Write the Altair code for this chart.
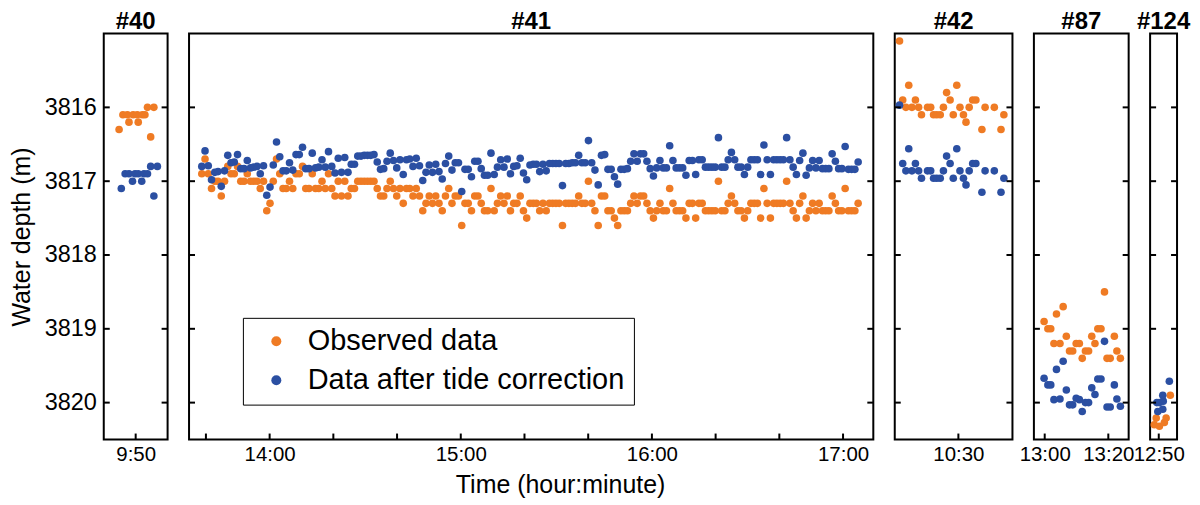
import altair as alt
import pandas as pd

FONT = "Liberation Sans"
ORANGE = "#EF7B24"
BLUE = "#2B4FA2"
SERIES = ["Observed data", "Data after tide correction"]

Y_DOMAIN = [3815.0, 3820.5]
Y_TICKS = [3816, 3817, 3818, 3819, 3820]
PLOT_H = 407

# ---------------- #40 ----------------
p40_obs_t = [584.8, 586.0, 587.4, 587.9, 589.2, 590.5, 590.8, 592.1, 592.9, 593.7, 594.7, 595.7]
p40_obs_d = [3816.3, 3816.1, 3816.1, 3816.2, 3816.1, 3816.1, 3816.2, 3816.1, 3816.1, 3816.0, 3816.4, 3816.0]
p40_cor_t = [585.5, 586.7, 587.9, 589.0, 589.8, 590.8, 591.9, 592.6, 593.7, 594.7, 595.7, 596.8]
p40_cor_d = [3817.1, 3816.9, 3816.9, 3817.0, 3816.9, 3816.9, 3817.0, 3816.9, 3816.9, 3816.8, 3817.2, 3816.8]

# ---------------- #41 (one sample about every minute) ----------------
p41_start = 818.7
p41_step = 1.02
p41_obs_d = [
    3816.9, 3816.7, 3816.9, 3817.1, 3817.0, 3817.0, 3817.2, 3817.0, 3816.8, 3816.9,
    3816.9, 3816.8, 3817.0, 3817.0, 3816.9, 3817.0, 3817.0, 3817.0, 3817.1, 3817.0,
    3817.4, 3817.3, 3817.0, 3816.7, 3816.9, 3817.1, 3817.1, 3817.0, 3817.1, 3816.9,
    3816.9, 3816.8, 3817.1, 3817.1, 3816.9, 3817.1, 3817.1, 3817.0, 3817.1, 3816.9,
    3817.1, 3817.2, 3817.0, 3817.2, 3817.0, 3817.2, 3817.1, 3817.1, 3817.0, 3817.0,
    3817.0, 3817.0, 3817.0, 3817.0, 3817.1, 3817.2, 3817.2, 3817.1, 3817.0, 3817.1,
    3817.2, 3817.1, 3817.3, 3817.1, 3817.1, 3817.2, 3817.1, 3817.2, 3817.4, 3817.3,
    3817.2, 3817.3, 3817.2, 3817.3, 3817.4, 3817.2, 3817.1, 3817.3, 3817.2, 3817.2,
    3817.6, 3817.3, 3817.3, 3817.4, 3817.2, 3817.2, 3817.3, 3817.4, 3817.4, 3817.1,
    3817.4, 3817.3, 3817.2, 3817.3, 3817.2, 3817.4, 3817.3, 3817.3, 3817.2, 3817.4,
    3817.5, 3817.3,
    3817.3, 3817.3, 3817.4, 3817.3, 3817.4, 3817.3, 3817.3, 3817.3, 3817.3, 3817.6,
    3817.3, 3817.3, 3817.3, 3817.3, 3817.2, 3817.3, 3817.3, 3817.0, 3817.3, 3817.4,
    3817.6, 3817.2, 3817.2, 3817.4, 3817.4, 3817.5, 3817.6, 3817.4, 3817.4, 3817.4,
    3817.3, 3817.2, 3817.3, 3817.2, 3817.2, 3817.3, 3817.4, 3817.5, 3817.4, 3817.3,
    3817.4, 3817.4, 3817.1, 3817.3, 3817.4, 3817.4, 3817.4, 3817.5, 3817.3, 3817.3,
    3817.5, 3817.3, 3817.3, 3817.4, 3817.4, 3817.4, 3817.4, 3817.0, 3817.4, 3817.4,
    3817.3, 3817.2, 3817.3, 3817.4, 3817.4, 3817.5, 3817.4, 3817.3, 3817.3, 3817.3,
    3817.5, 3817.1, 3817.3, 3817.5, 3817.3, 3817.3, 3817.3, 3817.3, 3817.0, 3817.3,
    3817.4, 3817.5, 3817.3, 3817.2, 3817.5, 3817.4, 3817.3, 3817.4, 3817.3, 3817.4,
    3817.4, 3817.4, 3817.2, 3817.3, 3817.4, 3817.4, 3817.1, 3817.4, 3817.4, 3817.4,
    3817.3,
]
p41_cor_d = [
    3816.80, 3816.59, 3816.79, 3816.98, 3816.88, 3816.87, 3817.07, 3816.86, 3816.65, 3816.75,
    3816.74, 3816.64, 3816.83, 3816.83, 3816.72, 3816.82, 3816.81, 3816.80, 3816.90, 3816.79,
    3817.19, 3817.08, 3816.78, 3816.47, 3816.67, 3816.86, 3816.86, 3816.75, 3816.85, 3816.64,
    3816.64, 3816.54, 3816.83, 3816.83, 3816.62, 3816.82, 3816.81, 3816.71, 3816.81, 3816.60,
    3816.80, 3816.89, 3816.69, 3816.88, 3816.68, 3816.88, 3816.77, 3816.77, 3816.66, 3816.66,
    3816.65, 3816.65, 3816.65, 3816.64, 3816.74, 3816.84, 3816.83, 3816.73, 3816.62, 3816.72,
    3816.82, 3816.71, 3816.91, 3816.71, 3816.70, 3816.80, 3816.69, 3816.79, 3816.99, 3816.88,
    3816.78, 3816.88, 3816.77, 3816.87, 3816.97, 3816.76, 3816.66, 3816.85, 3816.75, 3816.75,
    3817.14, 3816.84, 3816.84, 3816.94, 3816.73, 3816.73, 3816.83, 3816.92, 3816.92, 3816.62,
    3816.91, 3816.81, 3816.71, 3816.81, 3816.70, 3816.90, 3816.80, 3816.79, 3816.69, 3816.89,
    3816.98, 3816.78,
    3816.77, 3816.77, 3816.87, 3816.77, 3816.86, 3816.76, 3816.76, 3816.76, 3816.76, 3817.06,
    3816.76, 3816.76, 3816.75, 3816.75, 3816.65, 3816.75, 3816.75, 3816.45, 3816.75, 3816.85,
    3817.05, 3816.65, 3816.64, 3816.84, 3816.84, 3816.94, 3817.04, 3816.84, 3816.84, 3816.83,
    3816.73, 3816.63, 3816.73, 3816.63, 3816.63, 3816.73, 3816.83, 3816.93, 3816.82, 3816.72,
    3816.82, 3816.82, 3816.52, 3816.72, 3816.82, 3816.82, 3816.82, 3816.92, 3816.72, 3816.72,
    3816.91, 3816.71, 3816.71, 3816.81, 3816.81, 3816.81, 3816.81, 3816.41, 3816.81, 3816.81,
    3816.71, 3816.61, 3816.71, 3816.81, 3816.81, 3816.91, 3816.81, 3816.71, 3816.71, 3816.71,
    3816.91, 3816.51, 3816.71, 3816.91, 3816.71, 3816.71, 3816.71, 3816.71, 3816.41, 3816.71,
    3816.81, 3816.91, 3816.72, 3816.62, 3816.92, 3816.82, 3816.72, 3816.82, 3816.72, 3816.83,
    3816.83, 3816.83, 3816.63, 3816.73, 3816.83, 3816.83, 3816.53, 3816.84, 3816.84, 3816.84,
    3816.74,
]

# ---------------- #42 ----------------
p42_t = [611.5, 612.5, 613.5, 614.4, 615.4, 616.5, 617.5, 618.4, 620.3, 621.3,
         622.2, 623.2, 624.3, 625.3, 626.3, 627.4, 628.4, 629.5, 630.5, 631.6,
         632.4, 633.4, 634.5, 635.5, 637.4, 638.4, 641.3, 643.4, 644.3]
p42_obs_d = [3815.1, 3815.9, 3816.0, 3815.7, 3816.0, 3815.9, 3816.0, 3816.1, 3816.0, 3816.0,
             3816.1, 3816.1, 3816.1, 3816.0, 3815.8, 3815.9, 3816.1, 3815.7, 3816.0, 3816.1,
             3816.2, 3816.0, 3815.9, 3815.9, 3816.3, 3816.0, 3816.0, 3816.3, 3816.1]
p42_cor_d = [3815.97, 3816.76, 3816.86, 3816.56, 3816.86, 3816.76, 3816.86, 3816.96, 3816.86, 3816.86,
             3816.96, 3816.96, 3816.96, 3816.86, 3816.66, 3816.76, 3816.96, 3816.56, 3816.86, 3816.96,
             3817.05, 3816.86, 3816.76, 3816.76, 3817.15, 3816.86, 3816.86, 3817.15, 3816.96]

# ---------------- #87 ----------------
p87_t = [779.8, 781.0, 781.9, 782.9, 783.7, 784.8, 785.8, 786.8, 787.8, 788.8,
         789.9, 790.9, 791.8, 792.8, 793.8, 794.8, 795.8, 796.7, 797.7, 798.8,
         799.6, 800.6, 801.9, 802.7, 803.8]
p87_obs_d = [3818.9, 3819.0, 3819.0, 3819.2, 3818.8, 3819.2, 3818.7, 3819.1, 3819.3, 3819.3,
             3819.2, 3819.2, 3819.4, 3819.3, 3819.3, 3819.1, 3819.2, 3819.0, 3819.0, 3818.5,
             3819.4, 3819.4, 3819.1, 3819.3, 3819.4]
p87_cor_d = [3819.67, 3819.76, 3819.76, 3819.96, 3819.55, 3819.95, 3819.44, 3819.83, 3820.03, 3820.03,
             3819.94, 3819.96, 3820.12, 3820.00, 3820.00, 3819.80, 3819.89, 3819.68, 3819.68, 3819.17,
             3820.06, 3820.06, 3819.76, 3819.95, 3820.05]

# ---------------- #124 ----------------
p124_obs_t = [768.6, 769.2, 770.2, 771.75, 772.3, 773.6]
p124_obs_d = [3820.30, 3820.21, 3820.32, 3820.27, 3820.21, 3819.90]
p124_cor_t = [769.4, 769.7, 770.2, 771.25, 771.4, 771.25, 773.3]
p124_cor_d = [3820.00, 3820.12, 3820.00, 3820.09, 3819.98, 3819.90, 3819.71]

LABEL_EXPR = ("floor(datum.value / 60) + ':' + (datum.value % 60 < 10 ? '0' : '') "
              "+ (datum.value % 60)")


def make_df(obs_t, obs_d, cor_t, cor_d):
    rows = [{"t": t, "d": d, "series": SERIES[0]} for t, d in zip(obs_t, obs_d)]
    rows += [{"t": t, "d": d, "series": SERIES[1]} for t, d in zip(cor_t, cor_d)]
    return pd.DataFrame(rows)


def panel(title, df, xdom, width, xlabel_vals, xtick_vals,
          first=False, x_title=None, legend=False):
    xs = alt.Scale(domain=xdom, nice=False, zero=False)
    ys = alt.Scale(domain=Y_DOMAIN, reverse=True, nice=False, zero=False)
    if first:
        yaxis = alt.Axis(values=Y_TICKS, format="d", title="Water depth (m)",
                         ticks=False, domain=False, grid=False,
                         labelPadding=7.5, labelFontSize=23.5,
                         titleFontSize=25, titleFontWeight="normal", titlePadding=10)
    else:
        yaxis = None
    xkw = dict(values=xlabel_vals, labelExpr=LABEL_EXPR, ticks=False, domain=False,
               grid=False, labelPadding=5, labelFontSize=20.5, labelFlush=False,
               labelOverlap=False)
    if x_title:
        xaxis = alt.Axis(title=x_title, titleFontSize=25, titleFontWeight="normal",
                         titlePadding=8, titleX=372, titleAlign="center", **xkw)
    else:
        xaxis = alt.Axis(title=None, **xkw)

    if legend:
        leg = alt.Legend(orient="none", legendX=54, legendY=PLOT_H - 122, title=None,
                         strokeColor="black", fillColor="white", padding=9,
                         rowPadding=9, labelFontSize=29, labelFont=FONT,
                         labelColor="black", labelLimit=600, symbolType="circle",
                         symbolSize=100, symbolStrokeWidth=0, symbolOffset=10,
                         labelOffset=17, symbolOpacity=1)
    else:
        leg = None

    pts = alt.Chart(df).mark_circle(size=58, opacity=1).encode(
        x=alt.X("t:Q", scale=xs, axis=xaxis),
        y=alt.Y("d:Q", scale=ys, axis=yaxis),
        color=alt.Color("series:N", scale=alt.Scale(domain=SERIES, range=[ORANGE, BLUE]),
                        legend=leg),
    )
    yt = pd.DataFrame({"v": Y_TICKS})
    left = alt.Chart(yt).mark_rule(color="black", strokeWidth=2).encode(
        y=alt.Y("v:Q", scale=ys, axis=None), x=alt.value(0), x2=alt.value(6))
    right = alt.Chart(yt).mark_rule(color="black", strokeWidth=2).encode(
        y=alt.Y("v:Q", scale=ys, axis=None), x=alt.value(width), x2=alt.value(width - 6))
    xt = pd.DataFrame({"v": xtick_vals})
    bottom = alt.Chart(xt).mark_rule(color="black", strokeWidth=2).encode(
        x=alt.X("v:Q", scale=xs, axis=None), y=alt.value(PLOT_H), y2=alt.value(PLOT_H - 6))

    return alt.layer(pts, left, right, bottom).resolve_axis(
        x="independent", y="independent"
    ).properties(
        width=width, height=PLOT_H,
        title=alt.TitleParams(title, fontSize=24, fontWeight="bold", font=FONT,
                              color="black", offset=0),
    )


p41_t = [round(p41_start + i * p41_step, 2) for i in range(len(p41_obs_d))]

c40 = panel("#40", make_df(p40_obs_t, p40_obs_d, p40_cor_t, p40_cor_d),
            [580, 600], 64, [590], [590], first=True)
c41 = panel("#41", make_df(p41_t, p41_obs_d, p41_t, p41_cor_d),
            [814.7, 1029.5], 686, [840, 900, 960, 1020],
            [820, 840, 860, 880, 900, 920, 940, 960, 980, 1000, 1020],
            x_title="Time (hour:minute)", legend=True)
c42 = panel("#42", make_df(p42_t, p42_obs_d, p42_t, p42_cor_d),
            [610, 647], 118, [630], [630])
c87 = panel("#87", make_df(p87_t, p87_obs_d, p87_t, p87_cor_d),
            [776.6, 806.4], 95, [780, 800], [780, 800])
c124 = panel("#124", make_df(p124_obs_t, p124_obs_d, p124_cor_t, p124_cor_d),
             [767.3, 775.7], 27, [770], [770])

chart = alt.hconcat(c40, c41, c42, c87, c124, spacing=21.5, bounds="flush").resolve_scale(
    x="independent", y="independent", color="independent"
).resolve_legend(color="independent").properties(
    padding=0, background="white"
).configure_view(
    stroke="black", strokeWidth=2
).configure_axis(
    labelFont=FONT, titleFont=FONT, labelColor="black", titleColor="black"
).configure_title(font=FONT, color="black")

chart.save("out.html", embed_options={"renderer": "svg", "actions": False})
